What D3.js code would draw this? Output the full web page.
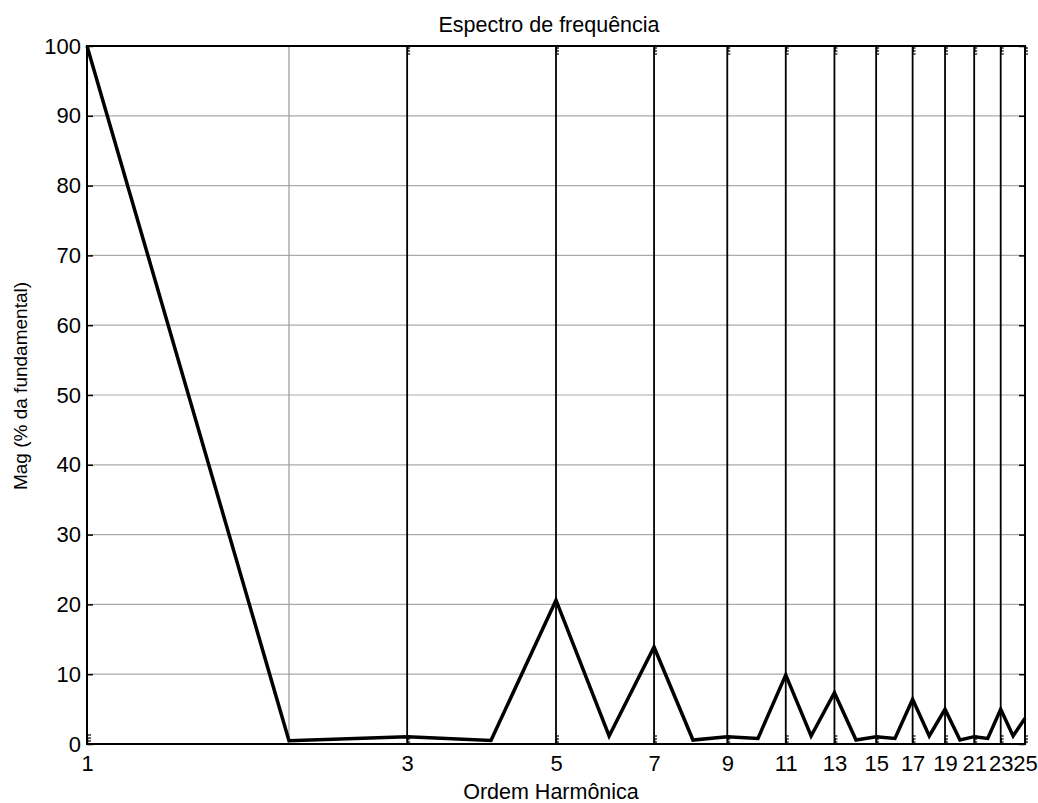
<!DOCTYPE html>
<html>
<head>
<meta charset="utf-8">
<script src="https://cdn.jsdelivr.net/npm/d3@7"></script>
<style>
  body { margin: 0; background: #fff; }
  svg { font-family: "Liberation Sans", Arial, sans-serif; }
</style>
</head>
<body>
<div id="graph-area"></div>
<script>
// harmonic orders and magnitudes (% of fundamental)
const HARMONICS = d3.range(1, 26)
const MAGNITUDES = [100, 0.47, 1.05, 0.5, 20.6, 1.15, 13.9, 0.57, 1.05, 0.8,
  9.9, 1.15, 7.35, 0.57, 1.05, 0.8, 6.4, 1.15, 4.97, 0.57, 1.05, 0.8, 4.97, 1.15, 3.68]
const X_TICKS = [1, 3, 5, 7, 9, 11, 13, 15, 17, 19, 21, 23, 25]
const Y_TICKS = [0, 10, 20, 30, 40, 50, 60, 70, 80, 90, 100]
const GRAY_LINES_X = [2]

const W = 1038
const H = 803
const margin = { top: 46, right: 13, bottom: 59, left: 87 }
const width = W - margin.left - margin.right
const height = H - margin.top - margin.bottom

const svg = d3.select('#graph-area')
  .append('svg')
  .attr('width', W)
  .attr('height', H)

const g = svg.append('g')
  .attr('transform', 'translate(' + margin.left + ',' + margin.top + ')')

const xScale = d3.scaleLog().domain([1, 25]).range([0, width])
const yScale = d3.scaleLinear().domain([0, 100]).range([height, 0])

// horizontal grid
g.selectAll('.hgrid')
  .data(Y_TICKS.slice(1, -1))
  .enter()
  .append('line')
  .attr('x1', 0).attr('x2', width)
  .attr('y1', d => yScale(d)).attr('y2', d => yScale(d))
  .attr('stroke', '#aaa')
  .attr('stroke-width', 1.2)

// gray vertical grid
g.selectAll('.vgrid')
  .data(GRAY_LINES_X)
  .enter()
  .append('line')
  .attr('x1', d => xScale(d)).attr('x2', d => xScale(d))
  .attr('y1', 0).attr('y2', height)
  .attr('stroke', '#999')
  .attr('stroke-width', 1.2)

// black vertical lines at odd harmonics
g.selectAll('.vblack')
  .data(X_TICKS.slice(1, -1))
  .enter()
  .append('line')
  .attr('x1', d => xScale(d)).attr('x2', d => xScale(d))
  .attr('y1', 0).attr('y2', height)
  .attr('stroke', '#000')
  .attr('stroke-width', 1.8)

// small minor-tick dashes next to each odd harmonic line, top and bottom
const DASH_OFFSETS = [2, 5, 8]
X_TICKS.slice(1).forEach(t => {
  DASH_OFFSETS.forEach(o => {
    [o, height - o].forEach(yy => {
      g.append('line')
        .attr('x1', xScale(t)).attr('x2', xScale(t) + 3)
        .attr('y1', yy).attr('y2', yy)
        .attr('stroke', '#000')
        .attr('stroke-width', 1.2)
    })
  })
})
// dashes on left axis near zero
DASH_OFFSETS.forEach(o => {
  g.append('line')
    .attr('x1', 0).attr('x2', 4)
    .attr('y1', height - o - 1).attr('y2', height - o - 1)
    .attr('stroke', '#000').attr('stroke-width', 1.2)
})

// data line
const line = d3.line()
  .x((d, i) => xScale(HARMONICS[i]))
  .y(d => yScale(d))

g.append('path')
  .datum(MAGNITUDES)
  .attr('d', line)
  .attr('fill', 'none')
  .attr('stroke', '#000')
  .attr('stroke-width', 3.5)
  .attr('stroke-linejoin', 'miter')

// axes
const xAxisBottom = d3.axisBottom(xScale)
  .tickValues(X_TICKS)
  .tickFormat(d3.format('d'))
  .tickSizeInner(-6)
  .tickSizeOuter(0)
  .tickPadding(11)

const xAxisTop = d3.axisTop(xScale)
  .tickValues(X_TICKS)
  .tickFormat('')
  .tickSizeInner(-6)
  .tickSizeOuter(0)

const yAxisLeft = d3.axisLeft(yScale)
  .tickValues(Y_TICKS)
  .tickSizeInner(-6)
  .tickSizeOuter(0)
  .tickPadding(6)

const yAxisRight = d3.axisRight(yScale)
  .tickValues(Y_TICKS)
  .tickFormat('')
  .tickSizeInner(-6)
  .tickSizeOuter(0)

function styleAxis(sel) {
  sel.select('.domain').remove()
  sel.selectAll('.tick line').attr('stroke', '#000').attr('stroke-width', 1.5)
  sel.selectAll('.tick text')
    .attr('fill', '#000')
    .style('font-size', '22px')
    .style('font-family', '"Liberation Sans", Arial, sans-serif')
}

g.append('g').attr('transform', 'translate(0,' + height + ')').call(xAxisBottom).call(styleAxis)
g.append('g').call(xAxisTop).call(styleAxis)
g.append('g').call(yAxisLeft).call(styleAxis)
g.append('g').attr('transform', 'translate(' + width + ',0)').call(yAxisRight).call(styleAxis)

// box
g.append('rect')
  .attr('x', 0).attr('y', 0)
  .attr('width', width).attr('height', height)
  .attr('fill', 'none')
  .attr('stroke', '#000')
  .attr('stroke-width', 2)

// texts
svg.append('text')
  .attr('x', 549)
  .attr('y', 32)
  .attr('text-anchor', 'middle')
  .style('font-size', '21.5px')
  .text('Espectro de frequência')

svg.append('text')
  .attr('x', 551)
  .attr('y', 799)
  .attr('text-anchor', 'middle')
  .style('font-size', '21.5px')
  .text('Ordem Harmônica')

svg.append('text')
  .attr('transform', 'translate(27,386) rotate(-90)')
  .attr('text-anchor', 'middle')
  .style('font-size', '19px')
  .text('Mag (% da fundamental)')
</script>
</body>
</html>
